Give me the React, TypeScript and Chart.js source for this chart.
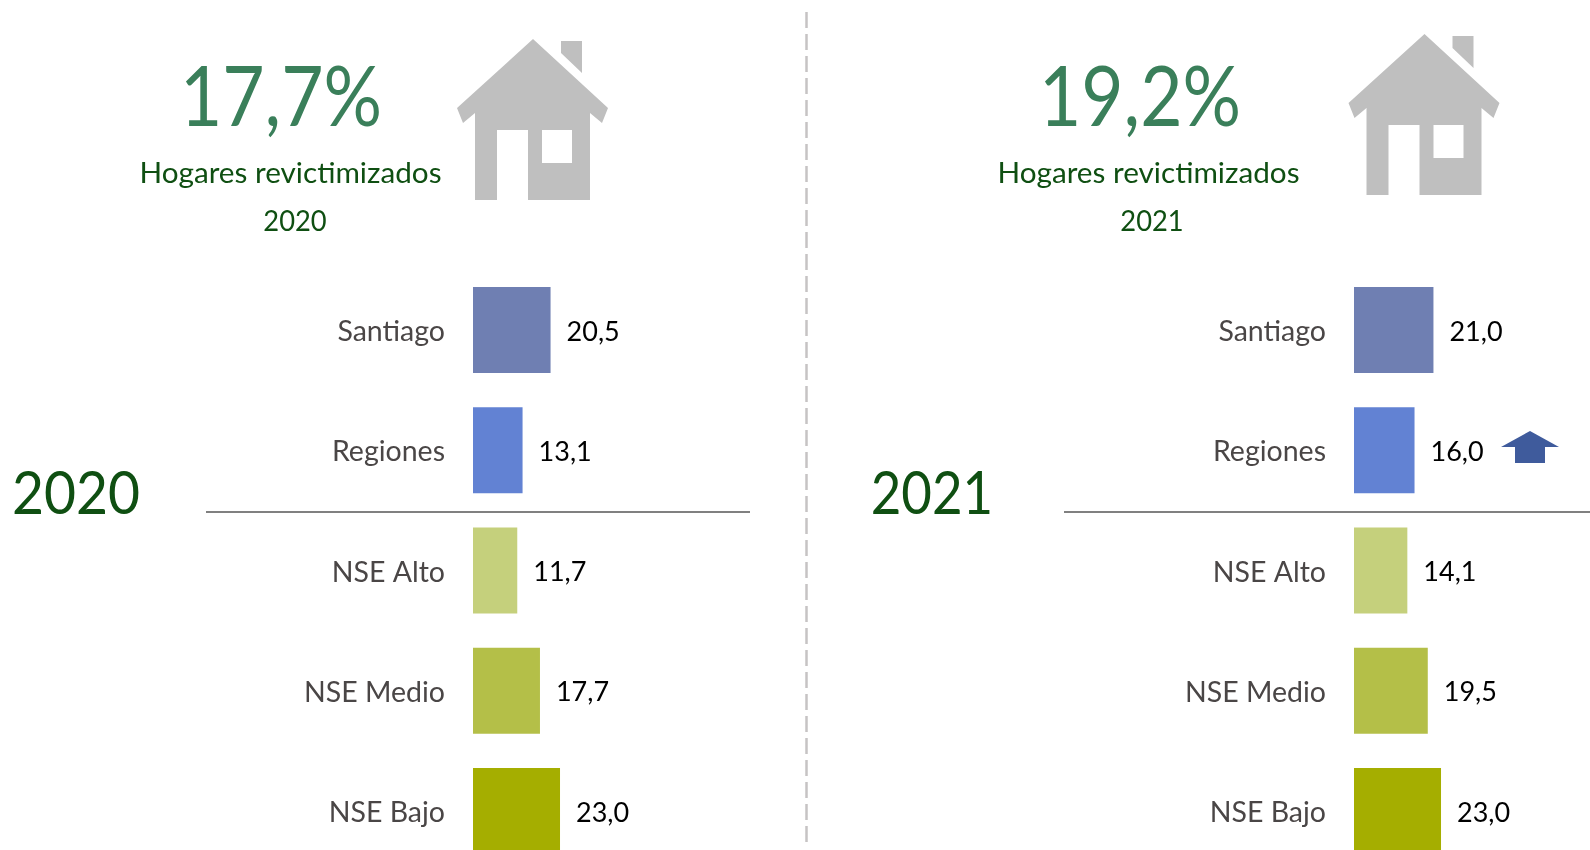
import React, { useEffect, useRef } from "react";
import { Chart, registerables } from "chart.js";

Chart.register(...registerables);

const categories = ["Santiago", "Regiones", "NSE Alto", "NSE Medio", "NSE Bajo"];
const values2020 = [20.5, 13.1, 11.7, 17.7, 23.0];
const values2021 = [21.0, 16.0, 14.1, 19.5, 23.0];
const barColors = ["#6F7FB2", "#6282D3", "#C5D07C", "#B4BF48", "#A5AE00"];
const FONT = "Lato, 'Noto Sans', sans-serif";
const AXIS_MAX = 60;

const valueLabels = {
  id: "valueLabels",
  afterDatasetsDraw(chart: any) {
    const { ctx } = chart;
    const meta = chart.getDatasetMeta(0);
    ctx.save();
    ctx.fillStyle = "#000000";
    ctx.font = `27px ${FONT}`;
    ctx.textBaseline = "middle";
    ctx.textAlign = "left";
    meta.data.forEach((bar: any, i: number) => {
      const v = chart.data.datasets[0].data[i] as number;
      ctx.fillText(v.toFixed(1).replace(".", ","), bar.x + 16, bar.y + 2);
    });
    ctx.restore();
  },
};

function Bars({ values, left }: { values: number[]; left: number }) {
  const ref = useRef<HTMLCanvasElement>(null);
  useEffect(() => {
    const chart = new Chart(ref.current!, {
      type: "bar",
      data: {
        labels: categories,
        datasets: [
          {
            data: values,
            backgroundColor: barColors,
            categoryPercentage: 1,
            barPercentage: 86 / 120.2,
          },
        ],
      },
      options: {
        indexAxis: "y",
        animation: false,
        responsive: false,
        layout: { padding: 0 },
        plugins: { legend: { display: false }, tooltip: { enabled: false } },
        scales: {
          x: { display: false, min: 0, max: AXIS_MAX },
          y: {
            grid: { display: false },
            border: { display: false },
            afterFit(s: any) {
              s.width = 273;
              s.paddingTop = 0;
              s.paddingBottom = 0;
            },
            ticks: {
              color: "#4A4646",
              padding: 20,
              labelOffset: 2,
              font: { family: FONT, size: 28.5 },
            },
          },
        },
      },
      plugins: [valueLabels],
    } as any);
    return () => chart.destroy();
  }, [values]);
  return (
    <canvas
      ref={ref}
      width={500}
      height={601}
      style={{ position: "absolute", left, top: 270, display: "block" }}
    />
  );
}

function T({ x, y, size, color, sx = 1, children }: any) {
  return (
    <div
      style={{
        position: "absolute",
        left: x,
        top: y,
        transform: `translate(-50%,-50%) scaleX(${sx})`,
        fontFamily: FONT,
        fontSize: size,
        lineHeight: 1,
        color,
        whiteSpace: "nowrap",
      }}
    >
      {children}
    </div>
  );
}

const housePath =
  "M533 39 L608 108 L602 123 L590 113 L590 200 L528 200 L528 130 L497 130 L497 200 L475 200 L475 113 L463 123 L457 108 Z M542 130 L542 163 L572 163 L572 130 Z M561 41 L582 41 L582 73 L561 53 Z";

export default function App() {
  return (
    <div style={{ position: "absolute", left: 0, top: 0, width: 1590, height: 850, overflow: "hidden", background: "#fff" }}>
      <Bars values={values2020} left={200} />
      <Bars values={values2021} left={1081} />

      <svg width={1590} height={850} style={{ position: "absolute", left: 0, top: 0 }}>
        <path d={housePath} fill="#BFBFBF" fillRule="evenodd" />
        <path d={housePath} fill="#BFBFBF" fillRule="evenodd" transform="translate(891.5,-5)" />
        <line x1={806.5} y1={12} x2={806.5} y2={842} stroke="#C6C3C4" strokeWidth={2.5} strokeDasharray="16 6" />
        <line x1={206} y1={512} x2={750} y2={512} stroke="#808080" strokeWidth={2} />
        <line x1={1064} y1={512} x2={1590} y2={512} stroke="#808080" strokeWidth={2} />
        <path d="M1530 431 L1559 447 L1545 447 L1545 463 L1515 463 L1515 447 L1501 447 Z" fill="#3F5B9C" />
      </svg>

      <T x={281} y={94} size={83} color="#3A7F5A" sx={0.88}>17,7%</T>
      <T x={1140} y={94} size={83} color="#3A7F5A" sx={0.88}>19,2%</T>
      <T x={290.5} y={172} size={29.7} color="#0F4F12">Hogares revictimizados</T>
      <T x={1148.5} y={172} size={29.7} color="#0F4F12">Hogares revictimizados</T>
      <T x={295} y={219.5} size={29.7} color="#0F4F12" sx={0.92}>2020</T>
      <T x={1152} y={219.5} size={29.7} color="#0F4F12" sx={0.92}>2021</T>
      <T x={76} y={491} size={60} color="#0F4F12" sx={0.92}>2020</T>
      <T x={932} y={491} size={60} color="#0F4F12" sx={0.88}>2021</T>
    </div>
  );
}
